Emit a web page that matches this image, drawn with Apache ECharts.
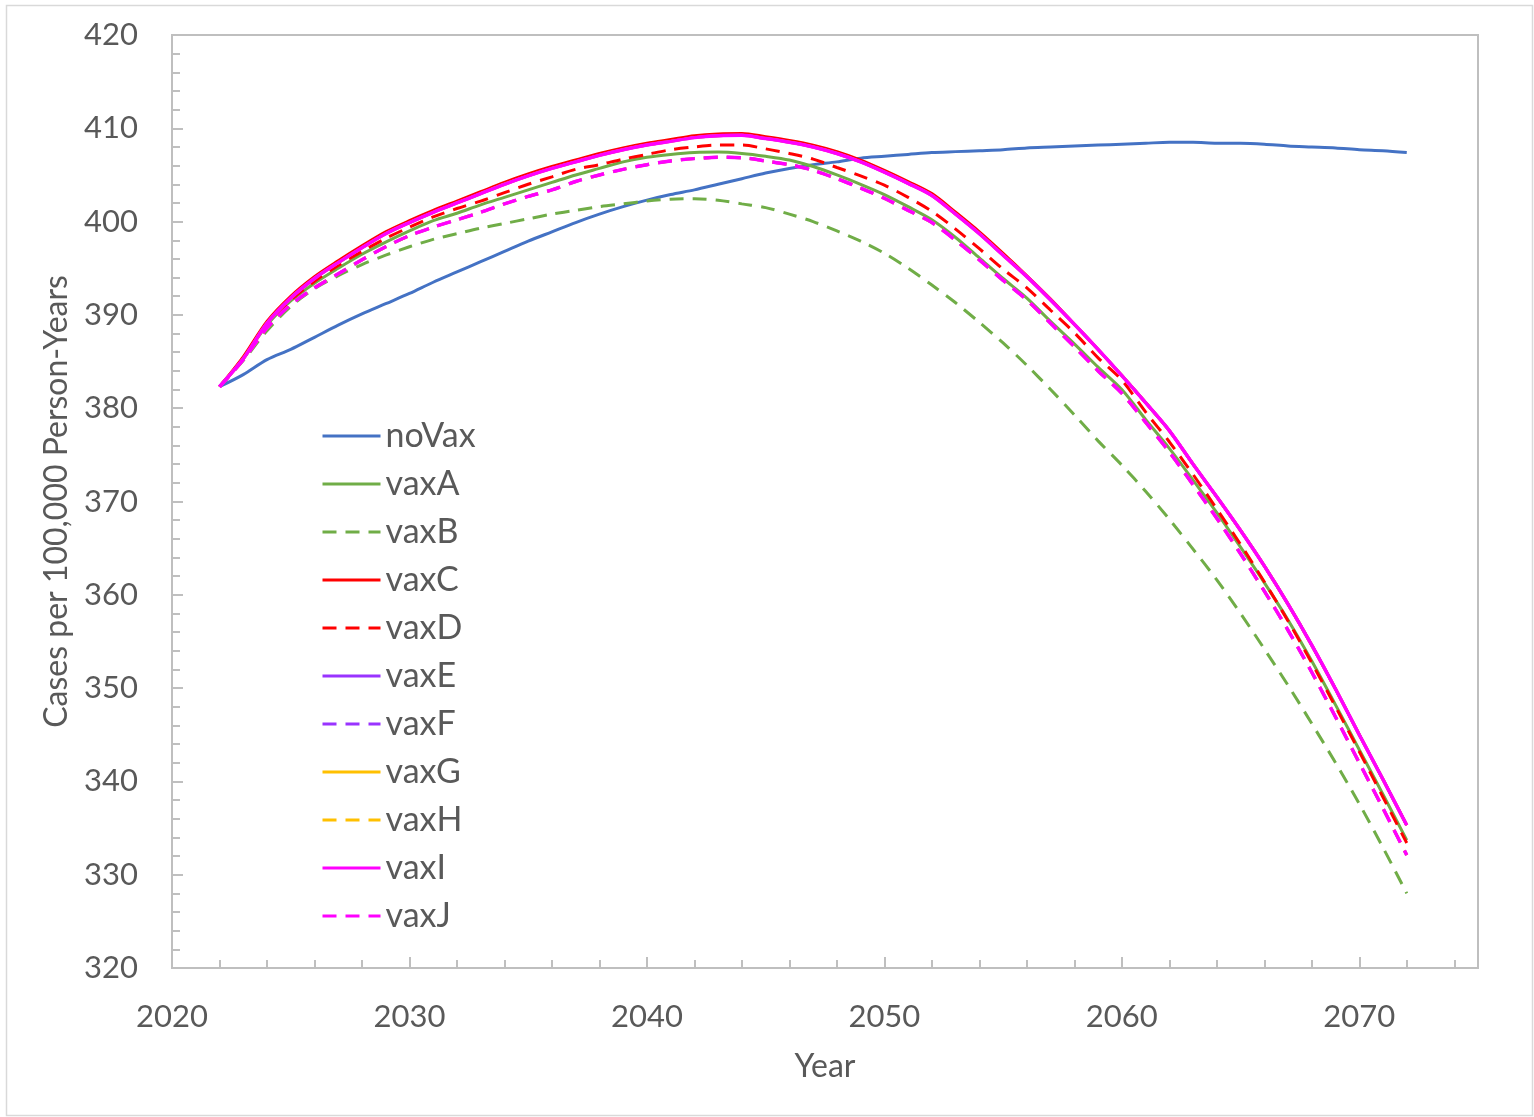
<!DOCTYPE html>
<html>
<head>
<meta charset="utf-8">
<script src="https://cdn.jsdelivr.net/npm/echarts@6/dist/echarts.min.js"></script>
<style>
html,body{margin:0;padding:0;background:#fff;}
#chart{width:1534px;height:1117px;}
</style>
</head>
<body>
<div id="chart"></div>
<script>
const years = [2022,2023,2024,2025,2026,2027,2028,2029,2030,2031,2032,2033,2034,2035,2036,2037,2038,2039,2040,2041,2042,2043,2044,2045,2046,2047,2048,2049,2050,2051,2052,2053,2054,2055,2056,2057,2058,2059,2060,2061,2062,2063,2064,2065,2066,2067,2068,2069,2070,2071,2072];

const seriesNames = ['noVax','vaxA','vaxB','vaxC','vaxD','vaxE','vaxF','vaxG','vaxH','vaxI','vaxJ'];

const noVax = [382.3,383.6,385.2,386.3,387.6,388.9,390.1,391.2,392.3,393.5,394.6,395.7,396.8,397.9,398.9,399.9,400.8,401.6,402.3,402.9,403.4,404.0,404.6,405.2,405.7,406.1,406.4,406.8,407.0,407.2,407.4,407.5,407.6,407.7,407.9,408.0,408.1,408.2,408.3,408.4,408.5,408.5,408.4,408.4,408.3,408.1,408.0,407.9,407.7,407.6,407.4];

const vaxA = [382.3,385.3,388.9,391.5,393.4,395.0,396.5,397.8,399.0,400.1,400.9,401.8,402.6,403.4,404.2,405.0,405.7,406.4,406.9,407.2,407.4,407.45,407.3,407.0,406.6,405.9,405.0,404.0,402.9,401.6,400.2,398.3,396.1,393.9,391.8,389.3,386.9,384.4,382.0,378.8,375.7,372.3,368.8,365.1,361.3,357.3,352.9,348.2,343.4,338.6,333.7];

const vaxB = [382.3,385.1,388.3,390.9,392.8,394.2,395.4,396.4,397.3,398.1,398.7,399.3,399.8,400.3,400.8,401.2,401.6,401.9,402.2,402.4,402.45,402.3,401.9,401.5,400.8,400.0,399.0,397.9,396.6,395.0,393.2,391.3,389.2,387.0,384.6,382.0,379.3,376.5,373.9,371.1,368.1,364.9,361.6,358.0,354.2,350.3,346.2,342.0,337.6,332.9,328.0];

const vaxC = [382.3,385.5,389.3,392.0,394.1,395.8,397.4,398.9,400.1,401.2,402.2,403.2,404.2,405.1,405.9,406.6,407.3,407.9,408.4,408.8,409.2,409.4,409.45,409.1,408.7,408.2,407.5,406.6,405.5,404.3,403.0,401.0,398.9,396.6,394.2,391.7,389.0,386.3,383.5,380.6,377.6,374.0,370.5,366.9,363.1,359.0,354.6,349.9,345.0,340.2,335.3];

const vaxD = [382.3,385.3,388.9,391.6,393.6,395.3,396.8,398.2,399.4,400.5,401.4,402.2,403.1,404.0,404.8,405.6,406.1,406.7,407.2,407.7,408.0,408.2,408.2,407.8,407.3,406.7,405.8,404.9,403.9,402.6,401.1,399.2,397.1,394.9,392.9,390.5,388.1,385.4,383.0,379.6,376.4,372.9,369.2,365.4,361.4,357.2,352.7,348.0,343.2,338.3,333.4];

const vaxE = [382.3,385.3,389.1,391.8,393.9,395.6,397.2,398.7,399.9,401.0,402.0,403.0,404.0,404.9,405.7,406.4,407.1,407.7,408.2,408.6,409.0,409.2,409.25,408.9,408.5,408.0,407.3,406.4,405.3,404.1,402.8,400.8,398.7,396.4,394.1,391.6,389.0,386.3,383.5,380.6,377.6,374.0,370.5,366.9,363.1,359.0,354.6,349.9,345.0,340.2,335.3];

const vaxF = [382.3,385.2,388.6,391.1,392.9,394.4,395.9,397.3,398.5,399.4,400.2,401.0,401.9,402.7,403.4,404.3,405.0,405.6,406.1,406.5,406.75,406.9,406.85,406.5,406.1,405.5,404.6,403.6,402.5,401.2,399.9,398.0,395.9,393.7,391.6,389.1,386.6,384.0,381.6,378.5,375.3,371.8,368.2,364.4,360.4,356.2,351.7,346.9,342.0,337.1,332.1];

const vaxG = [382.3,385.3,389.1,391.8,393.9,395.6,397.2,398.7,399.9,401.0,402.0,403.0,404.0,404.9,405.7,406.4,407.1,407.7,408.2,408.6,409.0,409.2,409.25,408.9,408.5,408.0,407.3,406.4,405.3,404.1,402.8,400.8,398.7,396.4,394.1,391.6,389.0,386.3,383.5,380.6,377.6,374.0,370.5,366.9,363.1,359.0,354.6,349.9,345.0,340.2,335.3];

const vaxH = [382.3,385.2,388.6,391.1,392.9,394.4,395.9,397.3,398.5,399.4,400.2,401.0,401.9,402.7,403.4,404.3,405.0,405.6,406.1,406.5,406.75,406.9,406.85,406.5,406.1,405.5,404.6,403.6,402.5,401.2,399.9,398.0,395.9,393.7,391.6,389.1,386.6,384.0,381.6,378.5,375.3,371.8,368.2,364.4,360.4,356.2,351.7,346.9,342.0,337.1,332.1];

const vaxI = [382.3,385.3,389.1,391.8,393.9,395.6,397.2,398.7,399.9,401.0,402.0,403.0,404.0,404.9,405.7,406.4,407.1,407.7,408.2,408.6,409.0,409.2,409.25,408.9,408.5,408.0,407.3,406.4,405.3,404.1,402.8,400.8,398.7,396.4,394.1,391.6,389.0,386.3,383.5,380.6,377.6,374.0,370.5,366.9,363.1,359.0,354.6,349.9,345.0,340.2,335.3];

const vaxJ = [382.3,385.2,388.6,391.1,392.9,394.4,395.9,397.3,398.5,399.4,400.2,401.0,401.9,402.7,403.4,404.3,405.0,405.6,406.1,406.5,406.75,406.9,406.85,406.5,406.1,405.5,404.6,403.6,402.5,401.2,399.9,398.0,395.9,393.7,391.6,389.1,386.6,384.0,381.6,378.5,375.3,371.8,368.2,364.4,360.4,356.2,351.7,346.9,342.0,337.1,332.1];

const xTickLabels = [2020,2030,2040,2050,2060,2070];
const yTickLabels = [320,330,340,350,360,370,380,390,400,410,420];

const valuesByName = {noVax, vaxA, vaxB, vaxC, vaxD, vaxE, vaxF, vaxG, vaxH, vaxI, vaxJ};

const styles = {
  noVax: {color:'#4472C4', type:'solid', width:3},
  vaxA:  {color:'#70AD47', type:'solid', width:3},
  vaxB:  {color:'#70AD47', type:[14,9], width:3},
  vaxC:  {color:'#FF0000', type:'solid', width:3},
  vaxD:  {color:'#FF0000', type:[14,9], width:3},
  vaxE:  {color:'#9933FF', type:'solid', width:3},
  vaxF:  {color:'#9933FF', type:[14,9], width:3},
  vaxG:  {color:'#FFC000', type:'solid', width:3},
  vaxH:  {color:'#FFC000', type:[14,9], width:3},
  vaxI:  {color:'#FF00FF', type:'solid', width:3.5},
  vaxJ:  {color:'#FF00FF', type:[14,9], width:3.5}
};

const FONT = 'Lato, "Open Sans", sans-serif';
const TXT = '#595959';
const AX = '#BFBFBF';

const series = seriesNames.map(name => ({
  name: name,
  type: 'line',
  symbol: 'none',
  smooth: 0.3,
  xAxisIndex: 0,
  yAxisIndex: 0,
  data: years.map((y, i) => [y, valuesByName[name][i]]),
  lineStyle: {color: styles[name].color, type: styles[name].type, width: styles[name].width, cap: 'butt'},
  itemStyle: {color: styles[name].color}
}));

const chart = echarts.init(document.getElementById('chart'), null, {renderer: 'canvas'});
chart.setOption({
  animation: false,
  backgroundColor: '#fff',
  graphic: [{
    type: 'rect', left: 4, top: 3, shape: {width: 1526, height: 1110},
    style: {fill: 'none', stroke: '#D9D9D9', lineWidth: 1.5}, silent: true, z: -1
  }],
  grid: {left: 172, top: 35, right: 56, bottom: 149, show: true, borderColor: AX, borderWidth: 2, backgroundColor: 'transparent'},
  legend: {
    orient: 'vertical', left: 316, top: 414,
    itemWidth: 58, itemHeight: 14, itemGap: 14,
    data: seriesNames,
    itemStyle: {opacity: 0},
    lineStyle: {width: 3},
    textStyle: {fontFamily: FONT, fontSize: 34, color: TXT, lineHeight: 34}
  },
  xAxis: [{
    type: 'value', min: 2020, max: 2075, interval: 10,
    name: 'Year', nameLocation: 'middle', nameGap: 83,
    nameTextStyle: {fontFamily: FONT, fontSize: 32, color: TXT},
    axisLine: {show: true, lineStyle: {color: AX, width: 2}},
    axisTick: {show: true, inside: true, length: 11, lineStyle: {color: AX, width: 2}},
    axisLabel: {fontFamily: FONT, fontSize: 31, color: TXT, margin: 33, showMaxLabel: false,
      formatter: v => (xTickLabels.indexOf(v) >= 0 ? String(v) : '')},
    splitLine: {show: false}
  }, {
    type: 'value', min: 2020, max: 2075, interval: 2, position: 'bottom',
    axisLine: {show: false},
    axisTick: {show: true, inside: true, length: 8, lineStyle: {color: AX, width: 2}},
    axisLabel: {show: false},
    splitLine: {show: false}
  }],
  yAxis: {
    type: 'value', min: 320, max: 420, interval: 10,
    name: 'Cases per 100,000 Person-Years', nameLocation: 'middle', nameGap: 97,
    nameTextStyle: {fontFamily: FONT, fontSize: 32, color: TXT},
    axisLine: {show: true, lineStyle: {color: AX, width: 2}},
    axisTick: {show: true, inside: true, length: 11, lineStyle: {color: AX, width: 2}},
    minorTick: {show: true, splitNumber: 5, length: 8, lineStyle: {color: AX, width: 2}},
    axisLabel: {fontFamily: FONT, fontSize: 31, color: TXT, margin: 34,
      formatter: v => (yTickLabels.indexOf(v) >= 0 ? String(v) : '')},
    splitLine: {show: false},
    minorSplitLine: {show: false}
  },
  series: series
});
</script>
</body>
</html>
